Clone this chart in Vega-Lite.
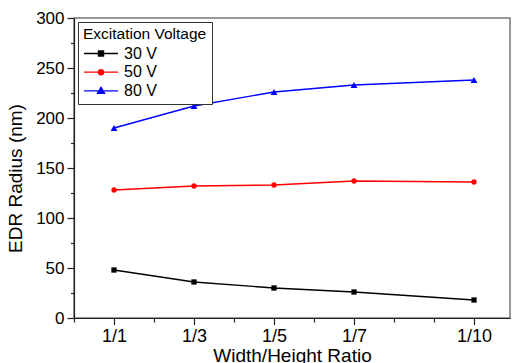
{
  "$schema": "https://vega.github.io/schema/vega-lite/v6.json",
  "width": 436,
  "height": 300,
  "autosize": {"type": "none"},
  "padding": {"left": 74, "top": 18, "right": 2, "bottom": 45},
  "background": "white",
  "config": {
    "font": "Liberation Sans",
    "view": {"stroke": "#777", "strokeWidth": 1.5},
    "axis": {"labelColor": "black", "titleColor": "black", "titleFontWeight": "normal", "grid": false, "domainColor": "#222", "tickColor": "#222", "domainWidth": 1.2, "tickWidth": 1.2}
  },
  "data": {
    "values": [
      {"ratio": "1/1", "d": 1, "voltage": "30 V", "radius": 48},
      {"ratio": "1/3", "d": 3, "voltage": "30 V", "radius": 36},
      {"ratio": "1/5", "d": 5, "voltage": "30 V", "radius": 30},
      {"ratio": "1/7", "d": 7, "voltage": "30 V", "radius": 26},
      {"ratio": "1/10", "d": 10, "voltage": "30 V", "radius": 18},
      {"ratio": "1/1", "d": 1, "voltage": "50 V", "radius": 128},
      {"ratio": "1/3", "d": 3, "voltage": "50 V", "radius": 132},
      {"ratio": "1/5", "d": 5, "voltage": "50 V", "radius": 133},
      {"ratio": "1/7", "d": 7, "voltage": "50 V", "radius": 137},
      {"ratio": "1/10", "d": 10, "voltage": "50 V", "radius": 136},
      {"ratio": "1/1", "d": 1, "voltage": "80 V", "radius": 190},
      {"ratio": "1/3", "d": 3, "voltage": "80 V", "radius": 212},
      {"ratio": "1/5", "d": 5, "voltage": "80 V", "radius": 226},
      {"ratio": "1/7", "d": 7, "voltage": "80 V", "radius": 233},
      {"ratio": "1/10", "d": 10, "voltage": "80 V", "radius": 238}
    ]
  },
  "encoding": {
    "x": {
      "field": "d", "type": "quantitative",
      "scale": {"domain": [0, 10.9], "nice": false, "zero": false},
      "axis": {
        "title": "Width/Height Ratio",
        "values": [0, 1, 2, 3, 4, 5, 6, 7, 8, 9, 10],
        "labelExpr": "indexof([1,3,5,7,10], datum.value) >= 0 ? '1/' + datum.value : ''",
        "tickSize": {"condition": {"test": "indexof([1,3,5,7,10], datum.value) >= 0", "value": 6.5}, "value": 4},
        "labelFontSize": 18,
        "labelPadding": 3,
        "labelOverlap": false,
        "labelFlush": false,
        "titleFontSize": 19,
        "titleY": 43,
        "titleBaseline": "alphabetic"
      }
    },
    "y": {
      "field": "radius", "type": "quantitative",
      "scale": {"domain": [0, 300], "nice": false},
      "axis": {
        "title": "EDR Radius (nm)",
        "values": [0, 25, 50, 75, 100, 125, 150, 175, 200, 225, 250, 275, 300],
        "labelExpr": "datum.value % 50 === 0 ? datum.label : ''",
        "tickSize": {"condition": {"test": "datum.value % 50 === 0", "value": 7}, "value": 3.5},
        "labelFontSize": 17,
        "labelPadding": 3,
        "labelOverlap": false,
        "titleFontSize": 19,
        "titleX": -59,
        "titleY": 160,
        "titleAngle": 270,
        "titleAlign": "center",
        "titleBaseline": "middle"
      }
    },
    "color": {
      "field": "voltage", "type": "nominal",
      "scale": {"domain": ["30 V", "50 V", "80 V"], "range": ["#000000", "#ff0000", "#0000ff"]},
      "legend": {
        "title": "Excitation Voltage",
        "orient": "none",
        "legendX": 4,
        "legendY": 4,
        "padding": 5,
        "strokeColor": "#333",
        "fillColor": "white",
        "titleFontSize": 15.5,
        "titleFontWeight": "normal",
        "titleColor": "black",
        "titlePadding": 3,
        "labelFontSize": 16,
        "labelColor": "black",
        "labelOffset": 5,
        "symbolSize": 1156,
        "symbolStrokeWidth": 1.3,
        "clipHeight": 16,
        "rowPadding": 2.7,
        "encode": {
          "symbols": {
            "update": {
              "size": {"value": 1156},
              "shape": [
                {"test": "datum.value === '30 V'", "value": "M-1,0H1M-0.15,-0.15H0.15V0.15H-0.15Z"},
                {"test": "datum.value === '50 V'", "value": "M-1,0H1M0.15,0A0.15,0.15,0,1,1,-0.15,0A0.15,0.15,0,1,1,0.15,0Z"},
                {"value": "M-1,0H1M0,-0.21L0.21,0.15L-0.21,0.15Z"}
              ],
              "fill": [
                {"test": "datum.value === '30 V'", "value": "#000000"},
                {"test": "datum.value === '50 V'", "value": "#ff0000"},
                {"value": "#0000ff"}
              ],
              "stroke": [
                {"test": "datum.value === '30 V'", "value": "#000000"},
                {"test": "datum.value === '50 V'", "value": "#ff0000"},
                {"value": "#0000ff"}
              ],
              "strokeWidth": {"value": 1.3},
              "opacity": {"value": 1},
              "fillOpacity": {"value": 1}
            }
          }
        }
      }
    }
  },
  "layer": [
    {"mark": {"type": "line", "strokeWidth": 1.3}},
    {
      "mark": {"type": "point", "filled": true, "opacity": 1, "strokeWidth": 0},
      "encoding": {
        "shape": {"condition": [{"test": "datum.voltage === '30 V'", "value": "square"}, {"test": "datum.voltage === '50 V'", "value": "circle"}], "value": "triangle-up"},
        "size": {"condition": {"test": "datum.voltage === '80 V'", "value": 48}, "value": 28}
      }
    }
  ]
}
